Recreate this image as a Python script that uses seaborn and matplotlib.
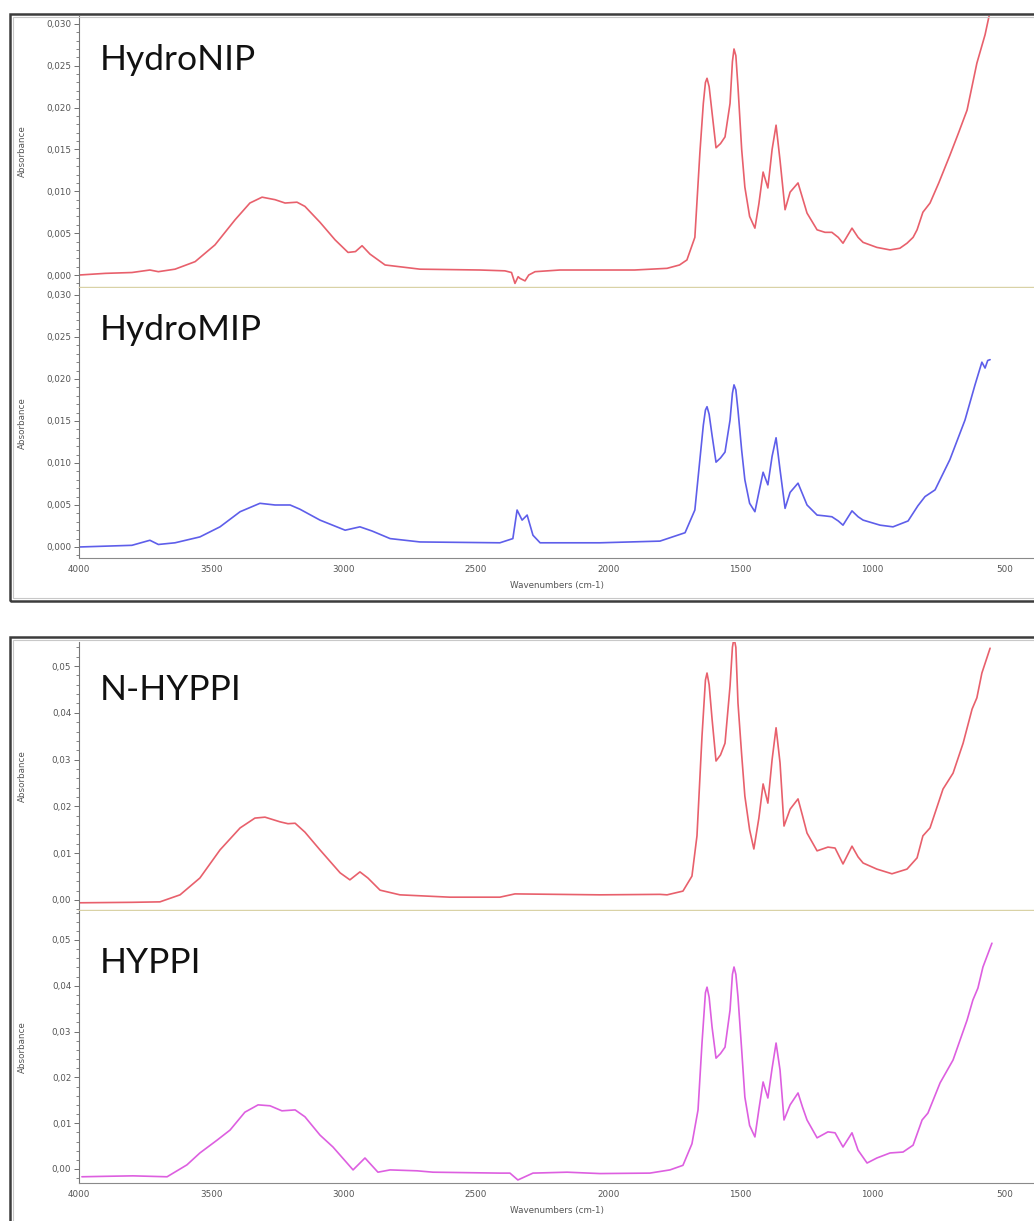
import numpy as np
import pandas as pd
import matplotlib
matplotlib.use("Agg")
import matplotlib.pyplot as plt
from matplotlib.patches import Rectangle
from matplotlib.ticker import MultipleLocator, FuncFormatter
import seaborn as sns

# ---------------- data ----------------
TITLES = ["HydroNIP", "HydroMIP", "N-HYPPI", "HYPPI"]

WN_NIP = [4000, 3900, 3800, 3732, 3700, 3637, 3561, 3486, 3410, 3354, 3308, 3259, 3221, 3176, 3146,
          3089, 3032, 2983, 2955, 2930, 2900, 2843, 2711, 2484, 2390, 2365, 2352, 2340, 2333, 2314,
          2300, 2276, 2182, 2031, 1900, 1777, 1730, 1702, 1672, 1653, 1640, 1632, 1626, 1618, 1607,
          1592, 1575, 1558, 1539, 1530, 1524, 1517, 1509, 1495, 1483, 1465, 1445, 1430, 1414, 1396,
          1380, 1365, 1350, 1331, 1312, 1282, 1265, 1248, 1210, 1180, 1154, 1130, 1112, 1078, 1055,
          1036, 984, 934, 897, 870, 847, 832, 810, 783, 750, 708, 675, 643, 606, 575, 556]
AB_NIP = [0.0000, 0.0002, 0.0003, 0.0006, 0.0004, 0.0007, 0.0016, 0.0036, 0.0066, 0.0086, 0.0093,
          0.0090, 0.0086, 0.0087, 0.0082, 0.0063, 0.0042, 0.0027, 0.0028, 0.0035, 0.0025, 0.0012,
          0.0007, 0.0006, 0.0005, 0.0003, -0.0010, -0.0002, -0.0004, -0.0007, 0.0000, 0.0004,
          0.0006, 0.0006, 0.0006, 0.0008, 0.0012, 0.0018, 0.0045, 0.0146, 0.0205, 0.0230, 0.0235,
          0.0225, 0.0194, 0.0152, 0.0157, 0.0165, 0.0205, 0.0255, 0.0270, 0.0262, 0.0225, 0.0150,
          0.0105, 0.0070, 0.0056, 0.0085, 0.0123, 0.0104, 0.0150, 0.0179, 0.0137, 0.0078, 0.0099,
          0.0110, 0.0092, 0.0074, 0.0054, 0.0051, 0.0051, 0.0045, 0.0038, 0.0056, 0.0045, 0.0039,
          0.0033, 0.0030, 0.0032, 0.0038, 0.0045, 0.0054, 0.0075, 0.0086, 0.0110, 0.0143, 0.0170,
          0.0197, 0.0253, 0.0287, 0.0315]

WN_MIP = [4000, 3900, 3800, 3732, 3700, 3637, 3543, 3467, 3391, 3316, 3259, 3202, 3165, 3089, 2994,
          2938, 2892, 2824, 2711, 2409, 2360, 2344, 2325, 2306, 2284, 2257, 2031, 1804, 1709, 1672,
          1653, 1640, 1632, 1626, 1618, 1607, 1592, 1575, 1558, 1539, 1530, 1524, 1517, 1509, 1495,
          1483, 1465, 1445, 1430, 1414, 1396, 1380, 1365, 1350, 1331, 1312, 1282, 1265, 1248, 1210,
          1180, 1154, 1130, 1112, 1078, 1055, 1036, 972, 923, 866, 829, 802, 764, 708, 651, 613, 587,
          575, 565, 556]
AB_MIP = [0.0000, 0.0001, 0.0002, 0.0008, 0.0003, 0.0005, 0.0012, 0.0024, 0.0042, 0.0052, 0.0050,
          0.0050, 0.0045, 0.0032, 0.0020, 0.0024, 0.0019, 0.0010, 0.0006, 0.0005, 0.0010, 0.0044,
          0.0032, 0.0038, 0.0014, 0.0005, 0.0005, 0.0007, 0.0017, 0.0044, 0.0104, 0.0145, 0.0163,
          0.0167, 0.0158, 0.0133, 0.0101, 0.0106, 0.0113, 0.0151, 0.0183, 0.0193, 0.0187, 0.0163,
          0.0115, 0.0080, 0.0052, 0.0042, 0.0065, 0.0089, 0.0074, 0.0108, 0.0130, 0.0092, 0.0046,
          0.0065, 0.0076, 0.0063, 0.0050, 0.0038, 0.0037, 0.0036, 0.0031, 0.0026, 0.0043, 0.0036,
          0.0032, 0.0026, 0.0024, 0.0031, 0.0049, 0.0060, 0.0068, 0.0104, 0.0151, 0.0193, 0.0220,
          0.0213, 0.0222, 0.0223]

WN_NHY = [4000, 3800, 3694, 3618, 3543, 3467, 3391, 3335, 3297, 3240, 3210, 3183, 3146, 3089, 3013,
          2976, 2938, 2908, 2862, 2787, 2598, 2409, 2352, 2031, 1804, 1777, 1717, 1683, 1664, 1645,
          1632, 1626, 1618, 1607, 1592, 1575, 1558, 1539, 1530, 1524, 1517, 1509, 1495, 1483, 1465,
          1449, 1430, 1414, 1396, 1380, 1365, 1350, 1335, 1312, 1282, 1265, 1248, 1210, 1169, 1142,
          1112, 1078, 1055, 1036, 984, 927, 870, 832, 810, 783, 734, 696, 658, 624, 606, 587, 556]
AB_NHY = [-0.0006, -0.0005, -0.0004, 0.0011, 0.0047, 0.0107, 0.0154, 0.0175, 0.0177, 0.0167, 0.0163,
          0.0164, 0.0145, 0.0107, 0.0058, 0.0043, 0.0060, 0.0047, 0.0021, 0.0011, 0.0006, 0.0006,
          0.0013, 0.0011, 0.0012, 0.0011, 0.0019, 0.0051, 0.0137, 0.0350, 0.0470, 0.0485, 0.0460,
          0.0387, 0.0297, 0.0310, 0.0335, 0.0457, 0.0540, 0.0560, 0.0540, 0.0421, 0.0310, 0.0222,
          0.0150, 0.0109, 0.0175, 0.0248, 0.0207, 0.0300, 0.0368, 0.0293, 0.0158, 0.0194, 0.0216,
          0.0180, 0.0143, 0.0105, 0.0113, 0.0111, 0.0077, 0.0115, 0.0092, 0.0079, 0.0066, 0.0056,
          0.0066, 0.0090, 0.0137, 0.0154, 0.0237, 0.0271, 0.0335, 0.0408, 0.0432, 0.0485, 0.0538]

WN_HY = [3989, 3900, 3796, 3667, 3592, 3543, 3478, 3429, 3373, 3323, 3278, 3233, 3183, 3146, 3089,
         3040, 2964, 2919, 2870, 2824, 2722, 2662, 2409, 2371, 2341, 2284, 2155, 2031, 1842, 1766,
         1717, 1683, 1660, 1645, 1632, 1626, 1618, 1607, 1592, 1575, 1558, 1539, 1530, 1524, 1517,
         1509, 1495, 1483, 1465, 1445, 1430, 1414, 1396, 1380, 1365, 1350, 1335, 1312, 1282, 1265,
         1248, 1210, 1169, 1142, 1112, 1078, 1055, 1021, 984, 934, 885, 847, 813, 791, 745, 696, 643,
         621, 602, 583, 549]
AB_HY = [-0.0017, -0.0016, -0.0015, -0.0017, 0.0009, 0.0035, 0.0063, 0.0085, 0.0124, 0.0140, 0.0138,
         0.0127, 0.0129, 0.0114, 0.0074, 0.0048, -0.0002, 0.0024, -0.0007, -0.0002, -0.0004, -0.0007,
         -0.0009, -0.0009, -0.0024, -0.0009, -0.0007, -0.0010, -0.0009, -0.0002, 0.0008, 0.0055,
         0.0129, 0.0275, 0.0385, 0.0397, 0.0375, 0.0310, 0.0242, 0.0252, 0.0266, 0.0347, 0.0425,
         0.0441, 0.0425, 0.0376, 0.0260, 0.0157, 0.0095, 0.0070, 0.0130, 0.0190, 0.0155, 0.0220,
         0.0275, 0.0216, 0.0107, 0.0140, 0.0166, 0.0135, 0.0107, 0.0068, 0.0081, 0.0079, 0.0048,
         0.0079, 0.0041, 0.0013, 0.0024, 0.0035, 0.0037, 0.0052, 0.0107, 0.0122, 0.0188, 0.0238,
         0.0325, 0.0369, 0.0395, 0.0441, 0.0493]

SERIES = [(WN_NIP, AB_NIP), (WN_MIP, AB_MIP), (WN_NHY, AB_NHY), (WN_HY, AB_HY)]
COLORS = ["#e8606c", "#5e5eea", "#e8606c", "#dd5fe0"]

# ---------------- figure ----------------
sns.set_style("white")
plt.rcParams["font.family"] = ["DejaVu Sans"]

W, H = 1034, 1221
fig = plt.figure(figsize=(W / 100, H / 100), dpi=100)
fig.patch.set_facecolor("white")

def fx(px):
    return px / W

def fy(py):
    return 1 - py / H

LEFT, RIGHT = 79, 1034
PANELS = [(16, 287), (288, 558), (642, 910), (911, 1183)]
YLIMS = [(-0.00143, 0.03094), (-0.00131, 0.03083), (-0.00214, 0.05513), (-0.00306, 0.05633)]

TICK_COLOR = "#6f6f6f"
OLIVE = "#d9d2a6"

for (top, bottom) in [(14, 601), (637, 1240)]:
    fig.add_artist(Rectangle((fx(10), fy(bottom)), fx(1100 - 10), (bottom - top) / H,
                             transform=fig.transFigure, fill=False,
                             edgecolor="#3c3c3c", linewidth=1.8, clip_on=False))
    fig.add_artist(Rectangle((fx(13), fy(bottom - 3)), fx(1100 - 13), (bottom - top - 6) / H,
                             transform=fig.transFigure, fill=False,
                             edgecolor="#c8c8c8", linewidth=0.8, clip_on=False))

def fmt3(v, pos):
    return f"{v:.3f}".replace(".", ",")

def fmt2(v, pos):
    return f"{v:.2f}".replace(".", ",")

for i, ((top, bottom), (wn, ab), color, title, ylim) in enumerate(
        zip(PANELS, SERIES, COLORS, TITLES, YLIMS)):
    ax = fig.add_axes([fx(LEFT), fy(bottom), fx(RIGHT - LEFT), (bottom - top) / H])
    ax.set_facecolor("white")
    df = pd.DataFrame({"Wavenumbers": wn, "Absorbance": ab})
    sns.lineplot(data=df, x="Wavenumbers", y="Absorbance", ax=ax, color=color,
                 linewidth=1.2, estimator=None, legend=False)
    ax.set_xlim(4000, 390)
    ax.set_ylim(*ylim)

    if i < 2:
        ax.yaxis.set_major_locator(MultipleLocator(0.005))
        ax.yaxis.set_minor_locator(MultipleLocator(0.001))
        ax.yaxis.set_major_formatter(FuncFormatter(fmt3))
    else:
        ax.yaxis.set_major_locator(MultipleLocator(0.01))
        ax.yaxis.set_minor_locator(MultipleLocator(0.002))
        ax.yaxis.set_major_formatter(FuncFormatter(fmt2))
    ax.xaxis.set_major_locator(MultipleLocator(500))
    ax.xaxis.set_minor_locator(MultipleLocator(100))

    for s in ["top", "right"]:
        ax.spines[s].set_visible(False)
    ax.spines["left"].set_color("#777777")
    ax.spines["left"].set_linewidth(0.8)

    if i % 2 == 0:
        ax.spines["bottom"].set_color(OLIVE)
        ax.spines["bottom"].set_linewidth(1.0)
        ax.tick_params(axis="x", which="both", bottom=False, labelbottom=False)
        ax.set_xlabel("")
    else:
        ax.spines["bottom"].set_color("#8a8a8a")
        ax.spines["bottom"].set_linewidth(0.8)
        ax.tick_params(axis="x", which="major", direction="inout", length=4, width=0.7,
                       color=TICK_COLOR, labelsize=6.3, labelcolor="#555555", pad=3)
        ax.tick_params(axis="x", which="minor", direction="inout", length=2.5, width=0.6,
                       color=TICK_COLOR)
        ax.xaxis.set_major_formatter(FuncFormatter(lambda v, p: f"{int(v)}"))
        ax.set_xlabel("Wavenumbers (cm-1)", fontsize=6.3, color="#555555", labelpad=5)

    ax.tick_params(axis="y", which="major", direction="out", length=3.5, width=0.7,
                   color=TICK_COLOR, labelsize=6.3, labelcolor="#555555", pad=2, left=True)
    ax.tick_params(axis="y", which="minor", direction="out", length=2, width=0.6,
                   color=TICK_COLOR, left=True)
    ax.set_ylabel("Absorbance", fontsize=6.3, color="#555555")
    ax.yaxis.set_label_coords(-(LEFT - 27) / (RIGHT - LEFT), 0.5)

    ty = [60, 330, 690, 963][i]
    ax.text((100 - LEFT) / (RIGHT - LEFT), (bottom - ty) / (bottom - top), title,
            transform=ax.transAxes, ha="left", va="center", fontsize=25.5,
            family=["Lato", "DejaVu Sans"], color="#111111")
    ax.grid(False)

fig.savefig("out.png", dpi=100, facecolor="white")
